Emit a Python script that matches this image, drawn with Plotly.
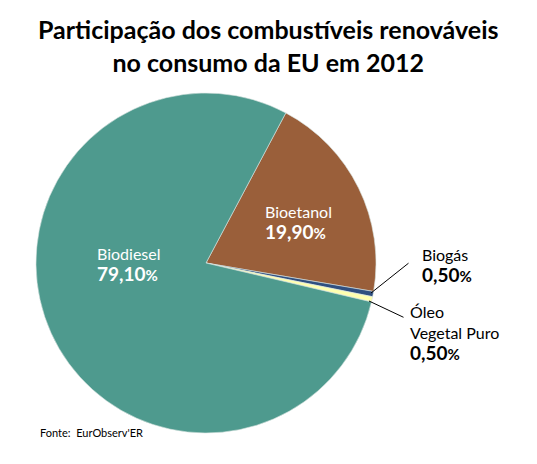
import plotly.graph_objects as go

labels = ["Bioetanol", "Biogás", "Óleo Vegetal Puro", "Biodiesel"]
values = [19.9, 0.5, 0.5, 79.1]
colors = ["#9A5F3A", "#2F4F80", "#FFFFB0", "#4E9A8E"]
textos = ["19,90", "0,50", "0,50", "79,10"]

W, H, OFF = 537, 464, 8  # page body margin shifts the plot

def px_(x):
    return (x - OFF) / W

def py_(y):
    return 1 - (y - OFF) / H

fig = go.Figure(go.Pie(
    labels=labels, values=values, sort=False, direction="clockwise", rotation=28,
    marker=dict(colors=colors, line=dict(color="#D8E4E0", width=0.6)),
    textinfo="none", hoverinfo="label+percent", showlegend=False,
    domain=dict(x=[px_(36), px_(376)], y=[py_(433), py_(93)]),
))

def pct(t, size=19):
    return f"<span style='font-size:{size}px'><b>{t}</b></span><span style='font-size:{size-4}px'><b>%</b></span>"

ann = [
    dict(x=px_(263), y=py_(222), text="Bioetanol<br>" + pct(textos[0]), font=dict(color="white", size=16)),
    dict(x=px_(95), y=py_(264), text="Biodiesel<br>" + pct(textos[3]), font=dict(color="white", size=16)),
    dict(x=px_(420), y=py_(265), text="Biogás<br>" + pct(textos[1]), font=dict(color="black", size=16)),
    dict(x=px_(408), y=py_(333), text="Óleo<br>Vegetal Puro<br>" + pct(textos[2]), font=dict(color="black", size=16)),
]
annotations = [dict(xref="paper", yref="paper", showarrow=False, xanchor="left", yanchor="middle",
                    align="left", **a) for a in ann]
annotations += [
    dict(xref="paper", yref="paper", x=px_(371), y=py_(293), ax=39, ay=-31, axref="pixel", ayref="pixel",
         text="", showarrow=True, arrowhead=0, arrowwidth=1, arrowcolor="black"),
    dict(xref="paper", yref="paper", x=px_(369), y=py_(301), ax=36, ay=17, axref="pixel", ayref="pixel",
         text="", showarrow=True, arrowhead=0, arrowwidth=1, arrowcolor="black"),
    dict(xref="paper", yref="paper", x=px_(38), y=py_(441), xanchor="left", showarrow=False,
         text="Fonte:  EurObserv'ER", font=dict(size=11, color="black")),
    dict(xref="paper", yref="paper", x=px_(268), y=py_(46), xanchor="center", yanchor="middle", showarrow=False,
         text="<b>Participação dos combustíveis renováveis<br>no consumo da EU em 2012</b>",
         font=dict(size=25, color="black")),
]

fig.update_layout(
    width=W, height=H, margin=dict(l=0, r=0, t=0, b=0),
    paper_bgcolor="white", font=dict(family="Lato, Open Sans, sans-serif"),
    annotations=annotations,
)
fig.write_html("out.html")
